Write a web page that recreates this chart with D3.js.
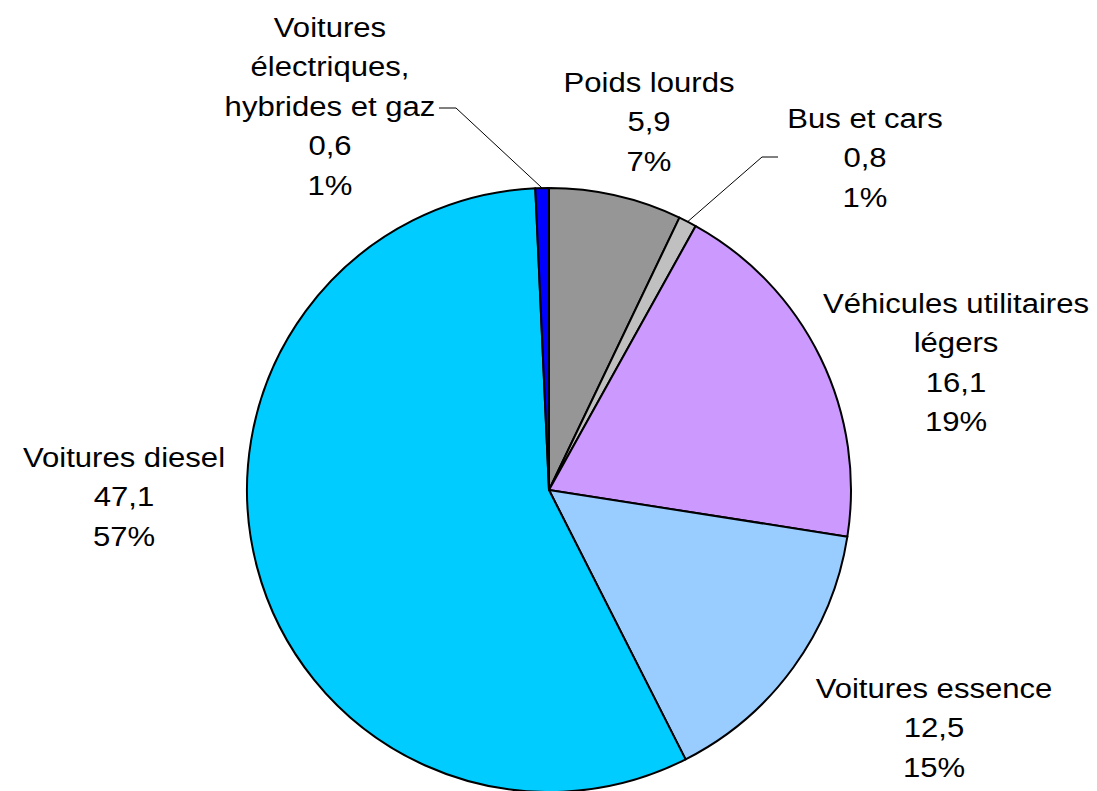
<!DOCTYPE html>
<html>
<head>
<meta charset="utf-8">
<script src="https://cdn.jsdelivr.net/npm/d3@7"></script>
<style>
  body { margin: 0; background: #fff; }
  text { font-family: "Liberation Sans", Arial, sans-serif; font-size: 28px; fill: #000; }
</style>
</head>
<body>
<div id="chart"></div>
<script>
// data, clockwise from 12 o'clock
var categories = ["Poids lourds", "Bus et cars", "Véhicules utilitaires légers",
  "Voitures essence", "Voitures diesel", "Voitures électriques, hybrides et gaz"];
var values = [5.9, 0.8, 16.1, 12.5, 47.1, 0.6];
var colors = ["#969696", "#c0c0c0", "#cc99ff", "#99ccff", "#00ccff", "#0000ff"];
// how each category name is broken on the label
var nameLines = [
  ["Poids lourds"],
  ["Bus et cars"],
  ["Véhicules utilitaires", "légers"],
  ["Voitures essence"],
  ["Voitures diesel"],
  ["Voitures", "électriques,", "hybrides et gaz"]
];

// label layout: centre x and first baseline
var labelPos = [
  [649, 92], [865, 128], [956, 313], [934, 698], [124, 467], [330, 37]
];
// leader lines (elbow start) for the small slices
var leaders = [
  null,
  [[778, 157], [762, 157]],
  null, null, null,
  [[439, 108], [456, 108]]
];

var width = 1097, height = 791;
var cx = 549, cy = 490, radius = 302;
var lineH = 39.5;
var stretch = 1.11;

var total = d3.sum(values);
var fmtVal = function(v) { return d3.format(".1f")(v).replace(".", ","); };
var fmtPct = function(v) { return Math.round(v / total * 100) + "%"; };

var svg = d3.select("#chart")
  .append("svg")
  .attr("width", width)
  .attr("height", height);

var pie = d3.pie().sort(null).value(function(d) { return d; });
var arcs = pie(values);

var arc = d3.arc().innerRadius(0).outerRadius(radius);

var g = svg.append("g").attr("transform", "translate(" + cx + "," + cy + ")");

g.selectAll("path.slice")
  .data(arcs)
  .enter().append("path")
  .attr("class", "slice")
  .attr("d", arc)
  .attr("fill", function(d, i) { return colors[i]; })
  .attr("stroke", "#000")
  .attr("stroke-width", 2)
  .attr("stroke-linejoin", "round");

// leader lines
arcs.forEach(function(a, i) {
  if (!leaders[i]) return;
  var mid = (a.startAngle + a.endAngle) / 2;
  var end = [cx + radius * Math.sin(mid), cy - radius * Math.cos(mid)];
  var pts = leaders[i].concat([end]);
  svg.append("path")
    .attr("d", d3.line()(pts))
    .attr("fill", "none")
    .attr("stroke", "#000")
    .attr("stroke-width", 1);
});

// labels
categories.forEach(function(c, i) {
  var lines = nameLines[i].concat([fmtVal(values[i]), fmtPct(values[i])]);
  var lg = svg.append("g")
    .attr("transform", "translate(" + labelPos[i][0] + "," + labelPos[i][1] + ") scale(" + stretch + ",1)");
  lg.selectAll("text")
    .data(lines)
    .enter().append("text")
    .attr("text-anchor", "middle")
    .attr("x", 0)
    .attr("y", function(d, k) { return k * lineH; })
    .text(function(d) { return d; });
});
</script>
</body>
</html>
